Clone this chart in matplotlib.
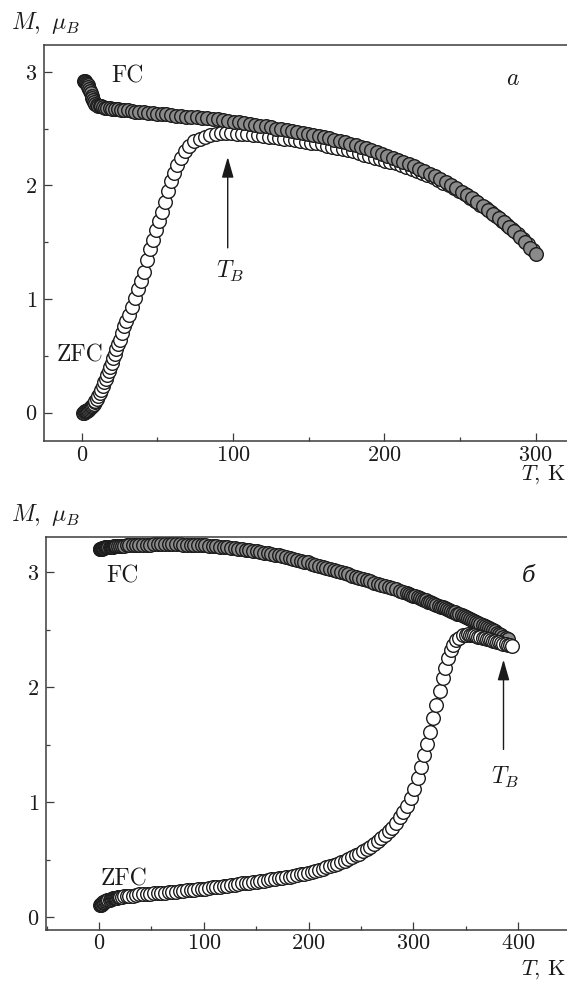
import matplotlib
matplotlib.use("Agg")
import matplotlib.pyplot as plt
from matplotlib.ticker import MultipleLocator

plt.rcParams['font.family'] = ['cmr10', 'DejaVu Serif']
plt.rcParams['mathtext.fontset'] = 'cm'
plt.rcParams['axes.formatter.use_mathtext'] = True
plt.rcParams['axes.unicode_minus'] = False

# ---------------- data: panel a ----------------
fc_a_T = [1.5, 2, 2.5, 3, 3.5, 4, 4.5, 5, 5.5, 6, 6.5, 7, 7.5, 8, 9, 10, 11, 12, 13, 14,
          15.5, 17, 18.5, 20, 22, 24, 26, 28, 30.5, 33, 35.5, 38, 41, 44, 47, 50, 53, 56, 59, 62,
          65.5, 69, 72.5, 76, 79.5, 83, 86.5, 90, 93.5, 97, 100.5, 104, 107.5, 111, 114.5, 118,
          121.5, 125, 128.5, 132, 135.5, 139, 142.5, 146, 149.5, 153, 156.5, 160, 163.5, 167,
          170.5, 174, 177.5, 181, 184.5, 188, 191.5, 195, 198.5, 202, 205.5, 209, 212.5, 216,
          219.5, 223, 226.5, 230, 233.5, 237, 240.5, 244, 247.5, 251, 254.5, 258, 261.5, 265,
          268.5, 272, 275.5, 279, 282.5, 286, 289.5, 293, 296.5, 300]
fc_a_M = [2.92, 2.92, 2.91, 2.90, 2.89, 2.88, 2.87, 2.85, 2.83, 2.81, 2.79, 2.77, 2.75, 2.73, 2.72,
          2.71, 2.70, 2.70, 2.695, 2.69, 2.685, 2.68, 2.68, 2.675, 2.67, 2.67, 2.665, 2.66, 2.66,
          2.655, 2.65, 2.65, 2.645, 2.64, 2.635, 2.63, 2.63, 2.625, 2.62, 2.615, 2.61, 2.605, 2.60,
          2.60, 2.595, 2.59, 2.585, 2.58, 2.575, 2.57, 2.56, 2.555, 2.55, 2.54, 2.53, 2.525, 2.52,
          2.51, 2.50, 2.495, 2.49, 2.48, 2.47, 2.46, 2.45, 2.445, 2.435, 2.425, 2.415, 2.40, 2.39,
          2.38, 2.365, 2.355, 2.34, 2.325, 2.31, 2.295, 2.28, 2.26, 2.245, 2.225, 2.21, 2.19, 2.17,
          2.145, 2.125, 2.10, 2.08, 2.055, 2.03, 2.00, 1.975, 1.945, 1.915, 1.885, 1.855, 1.82,
          1.785, 1.75, 1.715, 1.675, 1.635, 1.595, 1.55, 1.50, 1.45, 1.40]

zfc_a_T = [1, 1.5, 2, 2.5, 3, 3.5, 4, 4.5, 5, 5.5, 6, 6.5, 7, 7.5, 8, 8.5, 9, 10, 11, 12, 13, 14,
           15, 16, 17, 18, 19, 20, 21, 22, 23, 24, 25, 26.5, 28, 29.5, 31, 33, 35, 37, 39, 41, 43,
           45, 47, 49, 51, 53, 55, 57, 59, 61, 63, 65.5, 68, 71, 74.5, 78, 81.5, 85, 88.5, 92,
           95.5, 99, 102.5, 106, 109.5, 113, 116.5, 120, 123.5, 127, 130.5, 134, 137.5, 141,
           144.5, 148, 151.5, 155, 158.5, 162, 165.5, 169, 172.5, 176, 179.5, 183, 186.5, 190,
           193.5, 197, 200.5, 204, 207.5, 211, 214.5, 218, 221.5, 225, 228.5, 232, 235.5, 239,
           242.5, 246, 249.5, 253, 256.5, 260, 263.5, 267, 270.5, 274, 277.5, 281, 284.5, 288,
           291.5, 295, 298.5]
zfc_a_M = [0.00, 0.00, 0.005, 0.01, 0.01, 0.015, 0.02, 0.025, 0.03, 0.04, 0.045, 0.055, 0.06, 0.07,
           0.08, 0.09, 0.10, 0.12, 0.145, 0.17, 0.20, 0.235, 0.27, 0.30, 0.335, 0.37, 0.405, 0.44,
           0.48, 0.52, 0.56, 0.60, 0.64, 0.70, 0.76, 0.81, 0.86, 0.93, 1.01, 1.09, 1.16, 1.24, 1.34,
           1.44, 1.52, 1.61, 1.69, 1.77, 1.85, 1.95, 2.04, 2.11, 2.18, 2.24, 2.30, 2.35, 2.39, 2.41,
           2.43, 2.445, 2.455, 2.46, 2.46, 2.46, 2.455, 2.45, 2.45, 2.445, 2.44, 2.435, 2.43, 2.425,
           2.42, 2.41, 2.405, 2.40, 2.39, 2.385, 2.375, 2.37, 2.36, 2.35, 2.34, 2.33, 2.32, 2.31,
           2.30, 2.285, 2.27, 2.26, 2.245, 2.23, 2.215, 2.21, 2.195, 2.18, 2.16, 2.145, 2.13, 2.11,
           2.09, 2.07, 2.05, 2.025, 2.00, 1.975, 1.95, 1.92, 1.89, 1.86, 1.83, 1.80, 1.765, 1.73,
           1.69, 1.655, 1.615, 1.57, 1.53, 1.48, 1.43]

# ---------------- data: panel б ----------------
fc_b_T = [0.5, 1, 1.5, 2, 2.5, 3, 3.5, 4, 5, 6, 7, 8, 9, 10, 11, 12, 13, 14, 15, 16, 18, 20, 22,
          24, 26.5, 29, 32, 35, 38.5, 42, 45.5, 49, 52.5, 56, 59.5, 63, 66.5, 70, 73.5, 77, 80.5,
          84, 87.5, 91, 94.5, 98, 101.5, 105, 108.5, 112, 115.5, 119, 122.5, 126, 129.5, 133,
          136.5, 140, 143.5, 147, 150.5, 154, 157.5, 161, 164.5, 168, 171.5, 175, 178.5, 182,
          185.5, 189, 192.5, 196, 199.5, 203, 206.5, 210, 213.5, 217, 220.5, 224, 227.5, 231,
          234.5, 238, 241.5, 245, 248.5, 252, 255.5, 259, 262.5, 266, 269.5, 273, 276.5, 280,
          283.5, 287, 290.5, 294, 296, 298, 300, 302, 304, 306, 308, 310, 312, 314, 316, 318, 320,
          322, 324, 326, 328, 330, 332, 334, 336, 338, 340, 342, 344, 346, 348, 350, 352, 354,
          356, 358, 360, 362, 364, 366, 368, 370, 372, 374, 376, 378, 380, 382, 384, 386, 388, 390]
fc_b_M = [3.20, 3.20, 3.20, 3.205, 3.205, 3.21, 3.21, 3.21, 3.21, 3.215, 3.215, 3.215, 3.22, 3.22,
          3.22, 3.22, 3.22, 3.225, 3.225, 3.225, 3.23, 3.23, 3.23, 3.23, 3.235, 3.235, 3.235, 3.24,
          3.24, 3.24, 3.24, 3.24, 3.245, 3.245, 3.245, 3.245, 3.245, 3.245, 3.245, 3.245, 3.24,
          3.24, 3.24, 3.24, 3.235, 3.235, 3.235, 3.23, 3.23, 3.225, 3.22, 3.22, 3.215, 3.21, 3.21,
          3.205, 3.20, 3.195, 3.19, 3.185, 3.18, 3.175, 3.17, 3.165, 3.16, 3.15, 3.145, 3.14, 3.13,
          3.125, 3.115, 3.11, 3.10, 3.09, 3.085, 3.075, 3.065, 3.055, 3.045, 3.04, 3.03, 3.02,
          3.01, 3.00, 2.99, 2.98, 2.97, 2.96, 2.95, 2.94, 2.93, 2.92, 2.91, 2.90, 2.89, 2.88, 2.87,
          2.86, 2.85, 2.84, 2.825, 2.815, 2.81, 2.80, 2.795, 2.79, 2.78, 2.775, 2.77, 2.76, 2.755,
          2.745, 2.74, 2.73, 2.725, 2.715, 2.71, 2.70, 2.695, 2.685, 2.68, 2.67, 2.665, 2.655,
          2.65, 2.64, 2.635, 2.625, 2.62, 2.61, 2.60, 2.595, 2.585, 2.575, 2.57, 2.56, 2.55, 2.54,
          2.535, 2.525, 2.515, 2.505, 2.495, 2.485, 2.475, 2.465, 2.455, 2.44, 2.43, 2.415]

zfc_b_T = [1, 1.5, 2, 2.5, 3, 3.5, 4, 5, 6, 7, 8, 9, 10, 11, 12, 13, 14, 15, 16, 17, 18, 19, 20,
           22, 24, 26.5, 29, 32, 35, 38.5, 42, 45.5, 49, 52.5, 56, 59.5, 63, 66.5, 70, 73.5, 77,
           80.5, 84, 87.5, 91, 94.5, 98, 101.5, 105, 108.5, 112, 115.5, 119, 122.5, 126, 129.5,
           133, 136.5, 140, 143.5, 147, 150.5, 154, 157.5, 161, 164.5, 168, 171.5, 175, 178.5,
           182, 185.5, 189, 192.5, 196, 199.5, 203, 206.5, 210, 213.5, 217, 220.5, 224, 227.5,
           231, 234.5, 238, 241.5, 245, 248.5, 252, 255.5, 259, 262.5, 266, 269.5, 273, 276.5,
           280, 283.5, 287, 290.5, 294, 297.5, 301, 304, 307, 310, 313, 316, 319, 322, 325, 328,
           330.5, 333, 335.5, 338, 341, 344, 347, 350, 352, 354, 356, 358, 360, 362, 364, 366,
           368, 370, 372, 374, 376, 378, 380, 382, 384, 386, 388, 390, 392, 394]
zfc_b_M = [0.11, 0.11, 0.115, 0.12, 0.12, 0.125, 0.13, 0.135, 0.14, 0.145, 0.15, 0.15, 0.155,
           0.16, 0.16, 0.165, 0.165, 0.17, 0.17, 0.17, 0.175, 0.175, 0.18, 0.18, 0.185, 0.185,
           0.19, 0.19, 0.195, 0.20, 0.20, 0.205, 0.205, 0.21, 0.21, 0.215, 0.215, 0.22, 0.22,
           0.225, 0.23, 0.23, 0.235, 0.24, 0.24, 0.245, 0.25, 0.25, 0.255, 0.26, 0.265, 0.265,
           0.27, 0.275, 0.28, 0.285, 0.29, 0.295, 0.30, 0.30, 0.305, 0.31, 0.315, 0.32, 0.325,
           0.33, 0.335, 0.34, 0.345, 0.35, 0.355, 0.36, 0.37, 0.375, 0.38, 0.39, 0.395, 0.405,
           0.415, 0.425, 0.435, 0.445, 0.455, 0.465, 0.48, 0.49, 0.51, 0.525, 0.54, 0.555, 0.575,
           0.595, 0.615, 0.64, 0.665, 0.69, 0.72, 0.75, 0.78, 0.82, 0.87, 0.92, 0.97, 1.04, 1.12,
           1.21, 1.31, 1.41, 1.51, 1.61, 1.73, 1.85, 1.97, 2.08, 2.17, 2.25, 2.32, 2.37, 2.41,
           2.43, 2.45, 2.455, 2.46, 2.455, 2.45, 2.45, 2.445, 2.44, 2.435, 2.43, 2.425, 2.42,
           2.415, 2.41, 2.405, 2.40, 2.395, 2.39, 2.385, 2.38, 2.375, 2.37, 2.365, 2.36]

x_ticks_a = [0, 100, 200, 300]
x_ticks_b = [0, 100, 200, 300, 400]
y_ticks = [0, 1, 2, 3]

# ---------------- figure ----------------
W, H = 567, 985
fig = plt.figure(figsize=(W / 100, H / 100), dpi=100)

def px_axes(l, t, r, b):
    return fig.add_axes([l / W, 1 - b / H, (r - l) / W, (b - t) / H])

ax1 = px_axes(44, 44.5, 567, 441)
ax2 = px_axes(46, 536.5, 567, 929.5)

GRAY = '#8a8a8a'
EDGE = '#1c1c1c'
SP = '#3c3c3c'
TXT = '#1a1a1a'
FS = 16
MS = 9.8
MEW = 1.0

def style(ax, xt, xlim, ylim):
    ax.set_xlim(*xlim)
    ax.set_ylim(*ylim)
    ax.set_xticks(xt)
    ax.set_yticks(y_ticks)
    ax.xaxis.set_minor_locator(MultipleLocator(50))
    ax.yaxis.set_minor_locator(MultipleLocator(0.5))
    ax.tick_params(which='both', direction='in', colors=SP, labelcolor=TXT,
                   labelsize=FS, width=0.9, top=False, right=False)
    ax.tick_params(which='major', length=5.5)
    ax.tick_params(axis='x', which='major', pad=3)
    ax.tick_params(axis='y', which='major', pad=5)
    ax.tick_params(which='minor', length=3)
    for s in ['left', 'bottom', 'top']:
        ax.spines[s].set_color(SP)
        ax.spines[s].set_linewidth(1.1)
    ax.spines['right'].set_visible(False)

style(ax1, x_ticks_a, (-24.9, 320.7), (-0.25, 3.24))
style(ax2, x_ticks_b, (-50.6, 446.6), (-0.105, 3.31))

# panel a: ZFC under FC
ax1.plot(zfc_a_T, zfc_a_M, 'o', ls='none', ms=MS, mfc='white', mec=EDGE, mew=MEW)
ax1.plot(fc_a_T, fc_a_M, 'o', ls='none', ms=MS, mfc=GRAY, mec=EDGE, mew=MEW)

# panel b: FC under ZFC
ax2.plot(fc_b_T, fc_b_M, 'o', ls='none', ms=MS, mfc=GRAY, mec=EDGE, mew=MEW)
ax2.plot(zfc_b_T, zfc_b_M, 'o', ls='none', ms=MS, mfc='white', mec=EDGE, mew=MEW)

arrow = dict(arrowstyle='-|>,head_length=0.7,head_width=0.2', color=TXT,
             lw=1.0, mutation_scale=18, shrinkA=0, shrinkB=0)

# annotations panel a
ax1.text(30, 2.96, 'FC', fontsize=FS + 1, ha='center', va='center', color=TXT)
ax1.text(-1, 0.50, 'ZFC', fontsize=FS + 1, ha='center', va='center', color=TXT)
ax1.text(285, 2.94, r'$a$', fontsize=FS + 1, ha='center', va='center', color=TXT)
ax1.annotate('', xy=(96.5, 2.25), xytext=(96.5, 1.45), arrowprops=arrow)
ax1.text(98, 1.24, r'$T_B$', fontsize=FS + 1, ha='center', va='center', color=TXT)

# annotations panel b
ax2.text(22, 2.96, 'FC', fontsize=FS + 1, ha='center', va='center', color=TXT)
ax2.text(24, 0.33, 'ZFC', fontsize=FS + 1, ha='center', va='center', color=TXT)
ax2.text(410, 2.97, 'б', fontsize=FS, ha='center', va='center', color=TXT,
         family=['DejaVu Serif'], style='italic')
ax2.annotate('', xy=(386, 2.24), xytext=(386, 1.46), arrowprops=arrow)
ax2.text(388, 1.22, r'$T_B$', fontsize=FS + 1, ha='center', va='center', color=TXT)

# axis labels
for yb in (29, 521):
    fig.text(11 / W, 1 - yb / H, r'$M,\ \mu_B$', fontsize=FS + 1, ha='left', va='baseline',
             color=TXT)
for yb in (480, 975):
    fig.text(521 / W, 1 - yb / H, r'$T$, K', fontsize=FS, ha='left', va='baseline',
             color=TXT)

fig.savefig('out.png', dpi=100)
